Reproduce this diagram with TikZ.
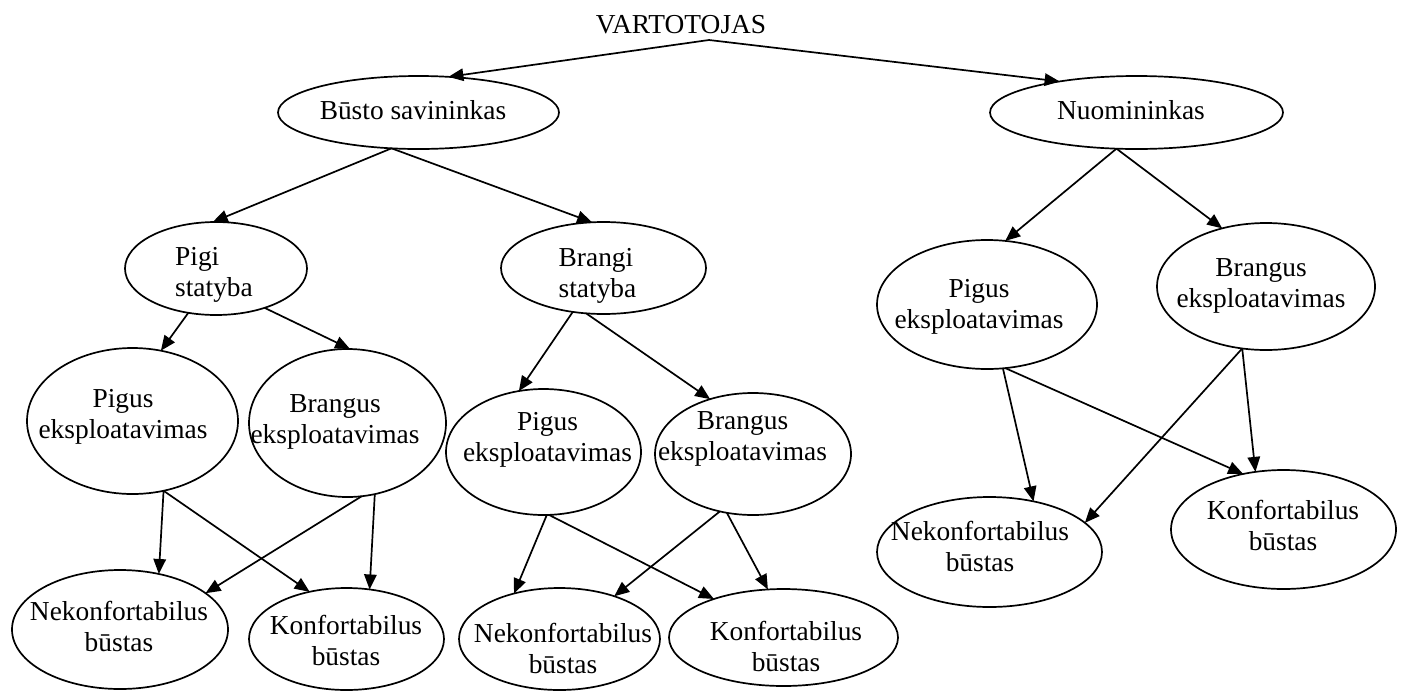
\documentclass[tikz,border=0pt]{standalone}
\usepackage{fontspec}
\setmainfont{Liberation Serif}
\usetikzlibrary{shapes.geometric,arrows.meta}
% stacked labels: baseline of the block is the baseline of its first line
\newcommand{\stackc}[1]{\begin{tabular}[t]{@{}c@{}}#1\end{tabular}}
\newcommand{\stackl}[1]{\begin{tabular}[t]{@{}l@{}}#1\end{tabular}}
\tikzset{
  oval/.style 2 args={ellipse, draw, line width=1.7pt, inner sep=0pt, outer sep=0pt,
    minimum width=#1pt, minimum height=#2pt},
  lbl/.style={anchor=base, inner sep=0pt, outer sep=0pt,
    font=\fontsize{27.4}{31}\selectfont},
  link/.style={line width=1.7pt, -{Triangle[length=15pt,width=12.5pt]}}
}
\begin{document}
\begin{tikzpicture}[x=1pt,y=-1pt]
\useasboundingbox[fill=white] (0,0) rectangle (1404,694);

% root
\node[lbl] (v) at (681,33) {VARTOTOJAS};
\coordinate (vfork) at (709,40);

% second level
\node[oval={281}{73}] (b) at (418.5,112.5) {};
\node[lbl] (bt) at (413,119) {Būsto savininkas};
\node[oval={293}{73}] (n) at (1136.5,112.5) {};
\node[lbl] (nt) at (1131,119) {Nuomininkas};

% construction cost
\node[oval={182}{93}] (ps) at (216,268.5) {};
\node[lbl] (pst) at (214,265) {\stackl{Pigi\\statyba}};
\node[oval={205}{92}] (bs) at (603.5,268) {};
\node[lbl] (bst) at (597.5,266) {\stackl{Brangi\\statyba}};

% maintenance cost
\node[oval={211}{146}] (p1) at (132.5,421) {};
\node[lbl] (p1t) at (123,407) {\stackc{Pigus\\eksploatavimas}};
\node[oval={197}{148}] (b1) at (347.5,423) {};
\node[lbl] (b1t) at (335,412) {\stackc{Brangus\\eksploatavimas}};
\node[oval={195}{126}] (p2) at (543.5,452) {};
\node[lbl] (p2t) at (547.5,430) {\stackc{Pigus\\eksploatavimas}};
\node[oval={196}{122}] (b2) at (753,454) {};
\node[lbl] (b2t) at (742.5,429) {\stackc{Brangus\\eksploatavimas}};
\node[oval={220}{129}] (p3) at (987,304.5) {};
\node[lbl] (p3t) at (979,297) {\stackc{Pigus\\eksploatavimas}};
\node[oval={218}{127}] (b3) at (1266,286.5) {};
\node[lbl] (b3t) at (1261,276) {\stackc{Brangus\\eksploatavimas}};

% comfort level
\node[oval={216}{119}] (nk1) at (120,629.5) {};
\node[lbl] (nk1t) at (119,620) {\stackc{Nekonfortabilus\\būstas}};
\node[oval={195}{102}] (k1) at (346.5,639) {};
\node[lbl] (k1t) at (346,634) {\stackc{Konfortabilus\\būstas}};
\node[oval={201}{102}] (nk2) at (559.5,639) {};
\node[lbl] (nk2t) at (563,642) {\stackc{Nekonfortabilus\\būstas}};
\node[oval={229}{97}] (k2) at (783.5,637.5) {};
\node[lbl] (k2t) at (786,640) {\stackc{Konfortabilus\\būstas}};
\node[oval={225}{110}] (nk3) at (989.5,552) {};
\node[lbl] (nk3t) at (980,540) {\stackc{Nekonfortabilus\\būstas}};
\node[oval={225}{119}] (k3) at (1283.5,529.5) {};
\node[lbl] (k3t) at (1283,519) {\stackc{Konfortabilus\\būstas}};

% connectors
\draw[link] (vfork) -- (b.50);
\draw[link] (vfork) -- (n.158);
\draw[link] (b.-127) -- (ps.94);
\draw[link] (b.-127) -- (bs.104);
\draw[link] (n.-119) -- (p3.74);
\draw[link] (n.-119) -- (b3.127);
\draw[link] (ps.-122) -- (p1.68);
\draw[link] (ps.-39) -- (b1.88);
\draw[link] (bs.-125) -- (p2.112);
\draw[link] (bs.-111.5) -- (b2.128);
\draw[link] (p1.-66) -- (nk1.55);
\draw[link] (p1.-66) -- (k1.128);
\draw[link] (b1.-79) -- (nk1.23);
\draw[link] (b1.-69) -- (k1.65);
\draw[link] (p2.-87) -- (nk2.135);
\draw[link] (p2.-85) -- (k2.151);
\draw[link] (b2.-120) -- (nk2.38);
\draw[link] (b2.-114) -- (k2.108);
\draw[link] (p3.-76.5) -- (nk3.49);
\draw[link] (p3.-74) -- (k3.126);
\draw[link] (b3.-111) -- (nk3.17);
\draw[link] (b3.-111) -- (k3.116);
\end{tikzpicture}
\end{document}
